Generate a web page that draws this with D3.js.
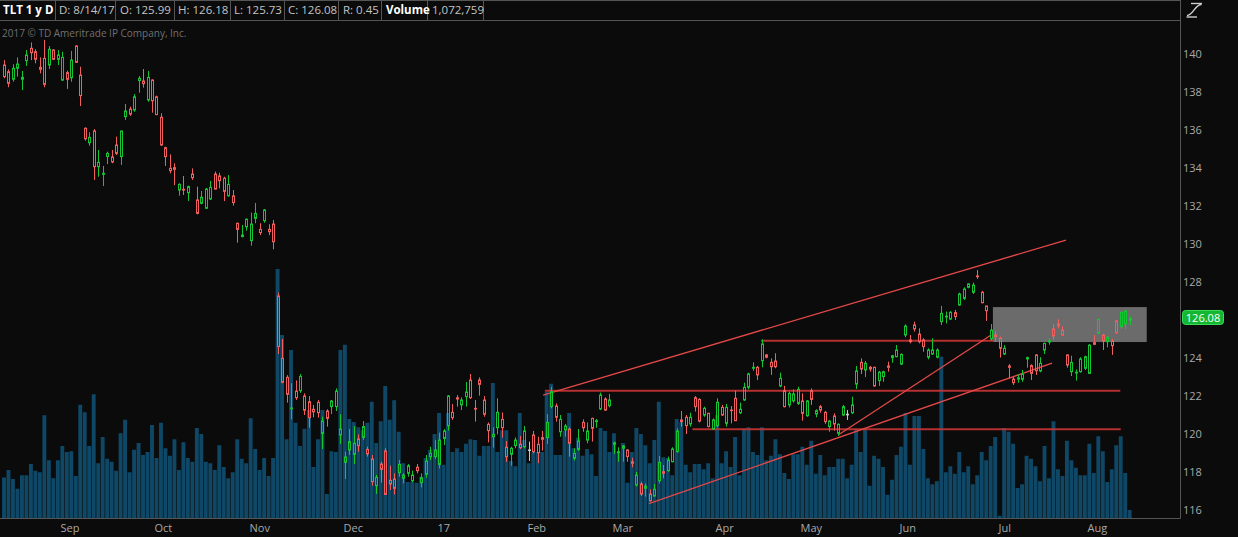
<!DOCTYPE html>
<html><head><meta charset="utf-8">
<script src="https://cdn.jsdelivr.net/npm/d3@7"></script>
<style>
html,body{margin:0;padding:0;background:#0b0b0b;overflow:hidden}
svg{display:block}
text{font-family:"Open Sans",sans-serif}
</style></head><body>
<svg id="c" width="1238" height="537"></svg>
<script>
// ---- categories: trading days (TLT daily, 1 year) ----
const tradingDays = [
 ["2016-08",[15,16,17,18,19,22,23,24,25,26,29,30,31]],
 ["2016-09",[1,2,6,7,8,9,12,13,14,15,16,19,20,21,22,23,26,27,28,29,30]],
 ["2016-10",[3,4,5,6,7,10,11,12,13,14,17,18,19,20,21,24,25,26,27,28,31]],
 ["2016-11",[1,2,3,4,7,8,9,10,11,14,15,16,17,18,21,22,23,25,28,29,30]],
 ["2016-12",[1,2,5,6,7,8,9,12,13,14,15,16,19,20,21,22,23,27,28,29,30]],
 ["2017-01",[3,4,5,6,9,10,11,12,13,17,18,19,20,23,24,25,26,27,30,31]],
 ["2017-02",[1,2,3,6,7,8,9,10,13,14,15,16,17,21,22,23,24,27,28]],
 ["2017-03",[1,2,3,6,7,8,9,10,13,14,15,16,17,20,21,22,23,24,27,28,29,30,31]],
 ["2017-04",[3,4,5,6,7,10,11,12,13,17,18,19,20,21,24,25,26,27,28]],
 ["2017-05",[1,2,3,4,5,8,9,10,11,12,15,16,17,18,19,22,23,24,25,26,30,31]],
 ["2017-06",[1,2,5,6,7,8,9,12,13,14,15,16,19,20,21,22,23,26,27,28,29,30]],
 ["2017-07",[3,5,6,7,10,11,12,13,14,17,18,19,20,21,24,25,26,27,28,31]],
 ["2017-08",[1,2,3,4,7,8,9,10,11,14]]
];
const dates = tradingDays.flatMap(([m, ds]) => ds.map(d => m + "-" + String(d).padStart(2,"0")));

// ---- series values ----
const opens = [
139.42,139.07,138.67,139.25,138.67,139.65,140.30,140.12,139.30,139.77,
139.42,140.21,139.72,138.63,139.02,138.75,140.42,138.89,136.09,135.33,
135.95,134.07,133.67,134.60,134.58,135.21,134.60,136.70,137.10,137.05,
138.60,138.58,137.58,138.63,137.75,136.67,135.07,133.98,134.02,132.84,
132.88,132.70,133.68,132.32,132.14,131.88,132.37,133.68,133.58,133.46,
132.54,132.53,131.09,130.39,130.91,130.18,131.35,130.77,131.23,130.77,
131.05,127.26,123.98,122.98,121.33,122.26,122.28,122.00,121.70,121.30,
121.67,120.03,121.21,121.44,121.44,119.95,118.51,119.16,118.93,119.74,
119.82,119.19,118.68,117.28,118.42,119.11,117.56,117.63,117.96,117.67,
117.93,117.54,118.25,117.44,117.88,118.81,118.81,118.40,119.77,120.44,
121.14,121.91,121.53,121.97,122.84,121.35,122.84,121.79,120.51,119.86,
120.33,120.77,119.30,118.93,119.39,119.46,119.33,119.16,119.95,119.46,
119.81,119.81,121.44,121.47,120.12,120.21,120.26,118.72,119.19,120.61,
119.68,120.82,120.65,121.32,121.84,121.49,119.46,119.02,119.25,119.16,
118.54,117.32,117.37,117.14,116.84,116.74,117.54,118.02,118.07,118.54,
119.07,120.74,120.88,120.53,121.91,121.82,121.00,121.09,120.26,120.44,
121.40,120.56,121.26,121.88,121.12,121.79,122.46,123.46,123.51,123.86,
124.16,123.77,123.84,122.53,122.28,121.53,121.74,121.61,121.74,120.96,
122.28,121.05,121.44,121.14,120.39,120.95,120.04,121.00,121.04,121.12,
122.63,123.77,123.37,123.51,123.51,122.81,123.02,123.58,124.02,124.07,
123.68,125.21,124.95,125.74,125.26,124.95,124.04,124.21,124.04,125.91,
126.16,126.05,126.39,126.79,127.14,127.72,127.46,128.32,127.46,126.74,
125.00,125.21,125.04,124.21,123.58,122.89,122.89,122.88,123.95,123.60,
124.16,123.32,124.42,124.84,125.53,125.79,125.47,124.16,123.28,123.21,
123.28,123.46,123.19,124.81,125.30,125.21,124.86,124.89,125.95,125.65,
125.79,125.99];
const highs = [
139.68,139.19,139.46,139.82,139.11,140.21,140.61,140.25,139.82,140.74,
140.42,140.25,140.21,140.12,139.12,140.16,140.47,139.33,136.14,135.88,
136.05,134.95,134.11,134.86,134.95,135.65,135.95,137.37,137.23,137.89,
138.84,139.21,139.11,138.67,137.81,136.88,135.12,134.72,134.25,133.19,
133.58,133.07,133.98,133.02,132.79,132.95,133.32,133.81,133.75,133.54,
133.63,132.84,131.12,131.00,131.35,131.65,132.16,131.09,131.84,131.04,
131.26,127.44,125.00,123.10,122.67,122.82,123.16,122.14,122.00,121.53,
121.79,120.91,121.30,121.79,122.40,121.04,119.07,120.26,120.42,119.98,
120.68,119.33,118.89,117.84,118.54,119.25,118.33,117.93,118.63,117.93,
118.42,118.07,118.42,117.93,118.89,119.33,119.68,120.07,120.26,122.05,
121.58,122.05,121.93,122.74,123.16,121.79,122.98,122.00,120.61,120.35,
121.88,121.14,119.63,119.33,119.82,119.90,120.42,119.60,120.16,119.86,
120.16,121.05,122.49,121.61,121.00,120.53,120.35,119.25,120.26,120.77,
120.61,120.86,120.79,122.18,121.93,122.11,119.60,119.30,119.42,119.19,
118.75,118.00,117.49,117.40,117.09,117.37,118.84,118.37,118.81,119.30,
120.30,121.21,121.00,121.12,122.00,121.88,121.44,121.09,120.82,121.88,
121.53,121.58,121.47,122.28,121.65,122.70,123.23,123.77,123.58,124.98,
124.21,123.98,124.25,123.23,122.53,122.23,122.35,122.49,122.14,121.79,
122.40,121.30,121.53,121.21,120.74,121.09,120.56,121.53,121.26,121.96,
123.58,123.98,123.84,123.58,123.54,123.32,123.33,123.81,124.16,124.68,
124.25,125.77,125.21,125.91,125.56,125.04,124.51,125.04,124.51,126.74,
126.44,126.47,126.53,127.44,127.72,127.93,127.97,128.63,127.53,126.74,
125.79,125.42,125.12,124.68,123.68,123.02,123.14,123.37,124.07,123.67,
124.19,124.04,124.81,125.04,125.77,126.04,125.68,124.19,124.12,123.40,
124.04,124.12,124.72,125.21,126.05,125.26,125.16,125.00,126.00,126.47,
126.53,126.18];
const lows = [
138.72,138.25,138.54,138.81,138.10,139.37,139.68,139.51,138.98,138.25,
139.21,139.68,139.42,138.58,138.16,138.54,139.54,137.26,135.44,135.17,
133.37,133.54,133.05,134.21,134.25,134.68,134.16,136.53,136.74,136.96,
137.96,138.23,137.49,136.91,136.79,135.16,134.11,133.72,133.10,132.54,
132.58,132.26,133.37,131.56,132.09,131.84,132.32,132.88,132.93,132.26,
132.49,132.02,130.07,130.35,130.70,129.91,131.09,130.47,131.12,130.47,
129.72,124.21,122.67,121.65,120.77,121.79,122.16,121.00,120.33,120.88,
120.86,119.21,120.39,121.05,121.21,119.47,117.63,118.90,118.42,119.07,
119.68,118.81,117.28,116.84,117.44,116.79,117.05,116.82,117.75,117.40,
117.75,117.46,117.93,117.19,117.70,118.63,118.68,118.19,119.42,120.18,
120.74,121.44,121.26,121.44,121.84,120.65,122.02,120.91,119.56,119.28,
119.98,119.81,118.54,118.33,119.25,119.21,119.25,118.58,118.98,118.46,
119.12,119.47,121.35,120.65,119.86,119.86,118.81,118.60,119.11,120.12,
119.51,119.60,120.33,121.26,121.21,121.40,118.95,118.54,118.54,118.54,
118.25,117.23,116.74,116.70,116.44,116.70,117.40,117.67,118.02,118.51,
119.02,120.39,120.00,120.39,121.18,120.61,120.91,120.35,120.21,120.35,
120.95,120.39,120.56,120.70,121.05,121.74,122.35,123.33,122.84,123.51,
123.98,123.11,123.46,122.46,121.40,121.40,121.65,121.53,120.70,120.91,
121.53,120.88,121.12,120.53,120.12,120.18,119.90,120.95,120.74,121.05,
122.37,123.16,123.00,123.28,122.49,122.53,122.75,123.28,123.75,124.04,
123.63,125.09,124.77,125.39,124.77,124.33,123.93,124.16,123.98,125.74,
125.82,126.00,126.00,126.75,127.05,127.67,127.37,128.16,126.88,125.95,
124.91,124.86,124.02,124.16,122.93,122.58,122.70,122.75,123.49,122.84,
123.11,123.25,124.21,124.70,124.95,125.56,125.16,123.49,123.05,122.81,
123.23,123.37,123.16,124.68,125.26,124.42,124.56,124.16,125.26,125.56,
125.53,125.73];
const closes = [
138.81,138.46,139.25,139.47,138.77,139.95,140.07,139.72,139.19,138.40,
140.25,139.72,139.95,139.82,138.67,139.68,139.56,137.81,135.54,135.61,
134.07,134.30,133.72,134.77,134.32,134.77,135.95,137.00,136.84,137.75,
138.72,138.44,138.77,137.54,136.81,135.21,134.60,133.86,133.93,133.14,
132.84,133.02,133.49,131.61,132.46,132.89,132.98,132.89,133.33,132.77,
133.14,132.18,130.77,130.47,131.30,131.05,131.61,130.60,131.79,130.65,
130.12,124.60,122.72,122.09,121.37,121.91,123.03,121.25,120.86,121.17,
121.12,120.68,120.82,121.74,122.26,120.26,118.79,119.60,119.51,119.39,
120.39,118.95,117.49,117.72,118.14,116.82,117.37,117.14,118.40,117.84,
118.33,117.84,118.07,117.70,118.58,118.98,119.16,119.68,120.16,122.00,
120.86,121.84,121.79,122.21,121.91,121.31,122.61,121.04,120.18,119.98,
121.14,120.33,118.81,119.25,119.68,119.28,120.16,119.16,119.07,119.02,
119.72,120.61,122.23,120.88,120.77,120.42,119.51,118.98,119.63,120.33,
120.16,120.30,120.70,122.05,121.26,121.79,119.54,119.07,119.37,118.81,
118.46,117.84,116.84,117.26,116.49,117.09,118.51,117.93,118.63,119.21,
120.16,120.65,120.44,120.88,121.44,120.68,121.35,120.39,120.74,121.67,
121.00,121.40,121.23,120.70,121.30,122.46,123.16,123.51,123.11,124.74,
124.04,123.54,123.54,122.93,121.44,122.14,122.11,122.35,121.09,121.74,
121.82,121.23,121.26,120.65,120.68,120.53,120.51,121.44,121.04,121.53,
123.32,123.42,123.72,123.42,122.53,123.25,123.28,123.51,124.12,124.42,
124.19,125.68,124.86,125.53,124.86,124.60,124.42,124.42,124.42,126.35,
126.20,126.40,126.18,127.37,127.63,127.90,127.84,128.28,126.91,126.49,
125.47,125.12,124.51,124.51,123.51,122.70,122.96,123.14,124.02,123.19,
123.33,123.72,124.77,124.91,125.16,125.70,125.21,123.63,123.77,123.25,
123.95,124.07,124.68,124.72,126.04,124.89,125.09,124.65,125.33,126.40,
126.47,126.08];
// volume, millions of shares
const volumes = [
5.4,6.4,5.2,3.9,5.7,5.7,7.2,6.3,6.1,13.7,
7.7,5.3,7.7,9.6,8.8,8.9,5.6,15.1,14.1,9.6,
16.5,7.3,10.8,7.9,7.5,6.3,11.3,13.1,6.1,9.1,
10.0,8.4,8.8,12.4,8.0,12.7,9.3,8.3,10.5,6.4,
10.1,8.0,7.5,12.0,11.2,7.5,7.3,6.4,9.7,6.8,
5.3,6.1,10.5,7.9,7.3,13.3,9.2,6.4,8.0,5.6,
8.0,33.2,24.4,10.5,22.4,12.7,9.6,11.9,14.4,6.8,
10.5,14.4,3.2,8.9,8.8,22.4,23.1,13.2,12.8,12.1,
11.7,12.7,15.5,10.0,12.9,17.6,13.1,15.7,11.5,7.3,
4.8,4.8,4.7,5.5,8.0,9.1,11.2,14.0,7.1,14.0,
8.8,9.3,8.8,9.9,10.5,10.4,8.3,9.6,9.6,18.0,
8.8,11.7,11.7,7.6,6.9,14.0,10.4,7.3,8.8,8.8,
8.8,16.8,17.9,8.4,8.4,11.6,14.0,9.3,10.7,8.3,
9.2,8.5,5.6,12.0,11.6,8.8,11.3,8.8,10.0,4.7,
8.8,12.0,11.2,9.7,7.3,10.4,15.5,8.1,8.0,5.7,
13.2,12.8,7.1,6.1,7.2,7.2,6.5,7.3,5.3,13.7,
7.3,8.9,6.8,10.8,5.7,11.9,12.1,8.8,8.4,12.1,
7.7,8.3,10.5,8.5,6.0,5.2,8.5,8.5,9.5,7.1,
10.3,5.9,8.4,5.7,6.8,6.8,7.9,7.9,5.3,7.1,
11.9,8.8,11.9,4.3,8.3,7.9,6.8,3.1,5.1,8.4,
9.5,14.0,7.1,13.6,13.6,9.2,5.3,4.5,4.9,21.5,
6.1,6.9,5.9,8.8,6.1,6.9,4.5,5.7,8.8,7.7,
9.6,10.8,0.3,12.0,11.5,9.9,4.0,4.5,8.3,7.9,
6.9,4.9,9.6,5.3,12.9,6.5,5.6,10.3,7.7,6.7,
5.7,5.7,9.9,6.0,10.9,8.9,4.8,6.5,9.7,10.9,
6.0,1.072759];

// ---- tick labels ----
const priceTicks = [116,118,120,122,124,126,128,130,132,134,136,138,140];
const monthTickDates = ["2016-09-01","2016-10-03","2016-11-01","2016-12-01","2017-01-03","2017-02-01","2017-03-01","2017-04-03","2017-05-01","2017-06-01","2017-07-03","2017-08-01"];
const monthTickLabels = ["Sep","Oct","Nov","Dec","17","Feb","Mar","Apr","May","Jun","Jul","Aug"];

// ---- drawn annotations (bar index, price) ----
const diagonalLines = [
  [[120.2,122.05],[236.8,130.21]],
  [[186.0,119.95],[220.1,125.21]],
  [[143.8,116.33],[233.7,123.73]]
];
const levelLines = [
  [[168.8,124.91],[220.6,124.91]],
  [[120.6,122.28],[248.9,122.28]],
  [[153.5,120.25],[249.0,120.25]]
];
const zone = {from:220.5, to:254.8, top:126.68, bottom:124.84};
const symbolTitle = "TLT 1 y D";
const copyright = "2017 \u00A9 TD Ameritrade IP Company, Inc.";

// ---- drawing ----
const W = 1238, H = 537, plotRight = 1180, plotBottom = 518, plotTop = 21;
const BG = "#0b0b0b", UP = "#14c732", DOWN = "#f25d5d", FLAT = "#c8c8c8", GRID = "#555";
const svg = d3.select("#c");
svg.append("rect").attr("width",W).attr("height",H).attr("fill",BG);

const N = dates.length;
const x = d3.scaleLinear().domain([0, N-1]).range([4, 1129.7]);
const y = d3.scaleLinear().domain([116, 140]).range([510, 54]);
const yv = d3.scaleLinear().domain([0, 33.33]).range([plotBottom, 268]);

svg.append("clipPath").attr("id","plot").append("rect")
  .attr("x",0).attr("y",plotTop).attr("width",plotRight).attr("height",plotBottom-plotTop);
const plot = svg.append("g").attr("clip-path","url(#plot)");

// volume
plot.append("g").selectAll("rect").data(volumes).join("rect")
  .attr("x",(d,i)=>x(i)-1.95).attr("width",3.9)
  .attr("y",d=>yv(d)).attr("height",d=>plotBottom-yv(d))
  .attr("fill","#0e4866");

// zone
plot.append("rect")
  .attr("x",x(zone.from)).attr("width",x(zone.to)-x(zone.from))
  .attr("y",y(zone.top)).attr("height",y(zone.bottom)-y(zone.top))
  .attr("fill","#6b6b6b");

// lines
plot.append("g").selectAll("line").data(levelLines).join("line")
  .attr("x1",d=>x(d[0][0])).attr("y1",d=>y(d[0][1]))
  .attr("x2",d=>x(d[1][0])).attr("y2",d=>y(d[1][1]))
  .attr("stroke","#c83434").attr("stroke-width",2).attr("stroke-opacity",0.9);
plot.append("g").selectAll("line").data(diagonalLines).join("line")
  .attr("x1",d=>x(d[0][0])).attr("y1",d=>y(d[0][1]))
  .attr("x2",d=>x(d[1][0])).attr("y2",d=>y(d[1][1]))
  .attr("stroke","#e44848").attr("stroke-width",1.3);

// candles
const bars = d3.range(N).map(i=>({i,o:opens[i],h:highs[i],l:lows[i],c:closes[i]}));
const col = d => d.c>d.o ? UP : (d.c<d.o ? DOWN : FLAT);
const cg = plot.append("g").selectAll("g").data(bars).join("g")
  .attr("transform",d=>`translate(${Math.round(x(d.i))},0)`);
cg.append("line").attr("x1",0.5).attr("x2",0.5)
  .attr("y1",d=>y(d.h)).attr("y2",d=>y(Math.max(d.o,d.c)))
  .attr("stroke",col).attr("stroke-width",1);
cg.append("line").attr("x1",0.5).attr("x2",0.5)
  .attr("y1",d=>y(Math.min(d.o,d.c))).attr("y2",d=>y(d.l))
  .attr("stroke",col).attr("stroke-width",1);
cg.append("rect").attr("x",-0.5).attr("width",2)
  .attr("y",d=>y(Math.max(d.o,d.c)))
  .attr("height",d=>Math.max(0.6, y(Math.min(d.o,d.c))-y(Math.max(d.o,d.c))))
  .attr("fill","none").attr("stroke",col).attr("stroke-width",1);

// frame
svg.append("line").attr("x1",plotRight+0.5).attr("x2",plotRight+0.5).attr("y1",0).attr("y2",plotBottom+0.5)
  .attr("stroke",GRID);
svg.append("line").attr("x1",0).attr("x2",plotRight+0.5).attr("y1",plotBottom+0.5).attr("y2",plotBottom+0.5)
  .attr("stroke",GRID);
svg.append("line").attr("x1",0).attr("x2",plotRight).attr("y1",0.5).attr("y2",0.5).attr("stroke",GRID);
svg.append("line").attr("x1",0).attr("x2",plotRight).attr("y1",20.5).attr("y2",20.5).attr("stroke",GRID);

// price axis (right); a label hidden under the last-price tag is not drawn
const last = N-1;
const tagY = y(closes[last]);
const visibleTicks = priceTicks.filter(t => Math.abs(y(t) - tagY) > 9);
const yAxis = d3.axisRight(y).tickValues(visibleTicks).tickSize(0).tickPadding(0).tickFormat(d3.format("d"));
const ya = svg.append("g").attr("transform",`translate(${plotRight+3},0)`).call(yAxis);
ya.select(".domain").remove();
ya.selectAll("text").attr("fill","#a9a9a9").attr("font-size",11).attr("font-family","Open Sans");

// month labels
const dateIndex = new Map(dates.map((d,i)=>[d,i]));
svg.append("g").selectAll("text").data(monthTickDates).join("text")
  .attr("x",d=>Math.round(x(dateIndex.get(d)))-1.5).attr("y",532)
  .attr("fill","#a9a9a9").attr("font-size",11).text((d,i)=>monthTickLabels[i]);

// last price tag
svg.append("rect").attr("x",1182.5).attr("y",tagY-8).attr("width",41).attr("height",14).attr("rx",3)
  .attr("fill","#13b731").attr("stroke","#3ddc5a").attr("stroke-width",1);
svg.append("text").attr("x",1203).attr("y",tagY+3.5).attr("text-anchor","middle")
  .attr("fill","#ffffff").attr("font-size",11).text(closes[last].toFixed(2));

// header
const fmtD = d3.timeFormat("%-m/%-d/%y"), parse = d3.timeParse("%Y-%m-%d");
const headerCells = [
  {t:symbolTitle, x:3, bold:true},
  {t:"D: "+fmtD(parse(dates[last])), x:59},
  {t:"O: "+opens[last].toFixed(2), x:120},
  {t:"H: "+highs[last].toFixed(2), x:178},
  {t:"L: "+lows[last].toFixed(2), x:234},
  {t:"C: "+closes[last].toFixed(2), x:288},
  {t:"R: "+(highs[last]-lows[last]).toFixed(2), x:343},
  {t:"Volume", x:386, bold:true},
  {t:d3.format(",")(Math.round(volumes[last]*1e6)), x:432}
];
const seps = [55,115,174,230,284,338,381,427,483];
svg.append("g").selectAll("line").data(seps).join("line")
  .attr("x1",d=>d+0.5).attr("x2",d=>d+0.5).attr("y1",0).attr("y2",20.5).attr("stroke",GRID);
svg.append("g").selectAll("text").data(headerCells).join("text")
  .attr("x",d=>d.x).attr("y",14).attr("font-size",11.5)
  .attr("font-weight",d=>d.bold?700:400)
  .attr("fill",d=>d.bold?"#ffffff":"#c4c4c4").text(d=>d.t);
svg.append("text").attr("x",2).attr("y",36.5).attr("font-size",10).attr("fill","#707070").text(copyright);

// top-right icon
const ic = svg.append("g").attr("fill","none").attr("stroke","#cfcfcf").attr("stroke-width",1.4);
ic.append("path").attr("d","M1191,3.5 H1202");
ic.append("path").attr("d","M1186.5,17 H1197");
ic.append("path").attr("d","M1187,15.5 C1193,15.5 1195,4.5 1201.5,4.5");
</script>
</body></html>
